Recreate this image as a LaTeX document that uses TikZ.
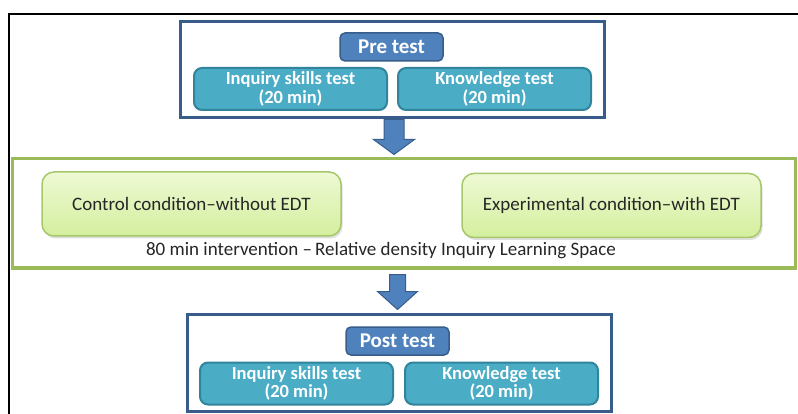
\documentclass[tikz,border=0pt]{standalone}
\usepackage{fontspec}
\setmainfont{Carlito}
\usetikzlibrary{shapes,arrows,positioning,backgrounds,calc,shadows}
\definecolor{frameblue}{RGB}{56,93,138}
\definecolor{titleblue}{RGB}{79,129,189}
\definecolor{testaqua}{RGB}{75,172,198}
\definecolor{testedge}{RGB}{49,132,155}
\definecolor{framegreen}{RGB}{155,187,89}
\definecolor{condedge}{RGB}{166,200,106}
\definecolor{condtop}{RGB}{238,249,212}
\definecolor{condbot}{RGB}{212,239,158}
\tikzset{
    stageframe/.style={draw=frameblue, line width=3pt, fill=white, minimum width=424pt, minimum height=96pt},
    titlebox/.style={draw=frameblue, line width=1.5pt, fill=titleblue, rounded corners=5pt, text=white,
        font=\fontsize{21}{23}\selectfont\bfseries, minimum width=103pt, minimum height=28pt, inner sep=0pt},
    testbox/.style={draw=testedge, line width=2pt, fill=testaqua, rounded corners=8pt, text=white, align=center,
        font=\fontsize{18.5}{18.5}\selectfont\bfseries, minimum width=193pt, minimum height=42pt, inner sep=0pt},
    condframe/.style={draw=framegreen, line width=3pt, fill=white, minimum width=783pt, minimum height=109pt},
    condbox/.style={draw=condedge, line width=1.5pt, top color=condtop, bottom color=condbot, rounded corners=12pt,
        text=black!85, font=\fontsize{19}{21}\selectfont, minimum width=299pt, minimum height=64pt, inner sep=0pt,
        drop shadow={shadow xshift=1.5pt, shadow yshift=-2.5pt, opacity=0.25}},
    blockarrow/.style={draw=frameblue, line width=1pt, fill=titleblue, line join=miter}
}
\begin{document}
\begin{tikzpicture}[x=1pt, y=-1pt]
    \useasboundingbox (0,0) rectangle (798,414);
    \draw[line width=2pt] (9,414) -- (9,14) -- (798,14);

    \node[stageframe] (pre) at (392,70) {};
    \node[titlebox] (pretitle) at (391.5,47) {Pre test};
    \node[testbox] (preinq) at (290.5,89) {Inquiry skills test\\(20 min)};
    \node[testbox, right=9pt of preinq] (preknow) {Knowledge test\\(20 min)};

    \node[condframe] (cond) at (403.5,213.5) {};
    \node[condbox] (ctrl) at (191.5,204) {Control condition–without EDT};
    \node[condbox] (exp) at (611.5,205.5) {Experimental condition–with EDT};
    \node[font=\fontsize{19}{21}\selectfont, text=black!85] (interv) at (381,251) {80 min intervention –\,Relative density Inquiry Learning Space};

    \node[stageframe, minimum height=97pt] (post) at (399,362.5) {};
    \node[titlebox] (posttitle) at (397.5,341) {Post test};
    \node[testbox] (postinq) at (296.5,383.5) {Inquiry skills test\\(20 min)};
    \node[testbox, right=10pt of postinq] (postknow) {Knowledge test\\(20 min)};

    \coordinate (a1) at ($(pre.south)+(2,0)$);
    \coordinate (a2) at ($(cond.south)+(-6,5)$);
    \draw[blockarrow] (a1) ++(-10,0) -- ++(20,0) -- ++(0,20) -- ++(10.5,0) -- ++(-20.5,15) -- ++(-20.5,-15) -- ++(10.5,0) -- cycle;
    \draw[blockarrow] (a2) ++(-8,0) -- ++(16,0) -- ++(0,17) -- ++(12,0) -- ++(-20,18) -- ++(-20,-18) -- ++(12,0) -- cycle;
\end{tikzpicture}
\end{document}
